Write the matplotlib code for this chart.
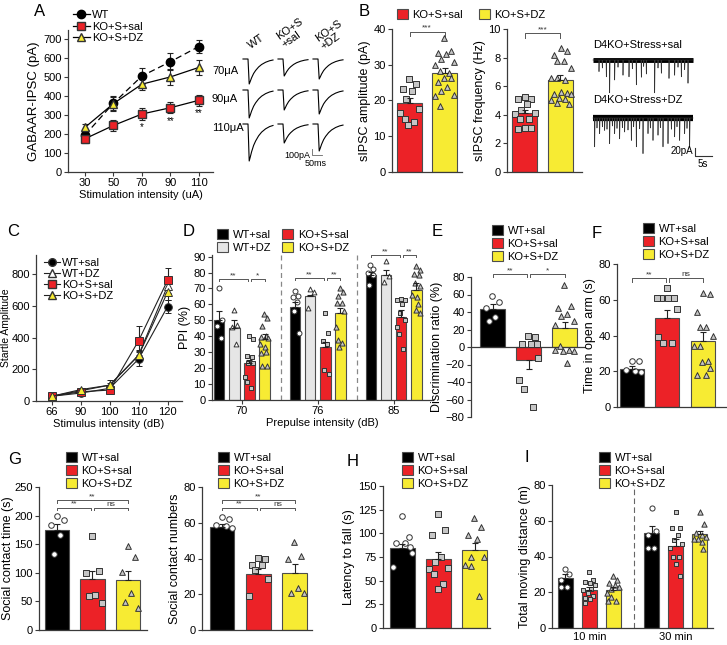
import numpy as np
import matplotlib
matplotlib.use("Agg")
import matplotlib.pyplot as plt
from matplotlib.lines import Line2D
from matplotlib.patches import Patch
from matplotlib.transforms import Affine2D

plt.rcParams['font.family'] = ['Liberation Sans', 'DejaVu Sans']
plt.rcParams['font.size'] = 8

# ---------------- data ----------------
# A: evoked GABAAR-IPSC vs stimulation
stim_ua = [30, 50, 70, 90, 110]
ipsc_wt = [195, 362, 505, 580, 660]
ipsc_wt_err = [20, 35, 40, 45, 35]
ipsc_ko_sal = [175, 245, 305, 338, 377]
ipsc_ko_sal_err = [20, 30, 30, 30, 30]
ipsc_ko_dz = [235, 360, 462, 500, 550]
ipsc_ko_dz_err = [20, 40, 30, 40, 40]
ipsc_stars = ['', '', '*', '**', '**']
trace_rows = ['70μA', '90μA', '110μA']
trace_cols = ['WT', 'KO+S\n+sal', 'KO+S\n+DZ']
trace_amp = [[500, 560, 740], [340, 400, 380], [400, 480, 540]]  # pA, column x row
trace_t = [0, 25, 28, 31, 36, 43, 53, 63, 78, 93, 113, 133, 150]  # ms
trace_shape = [0, 0, -0.5, -1.0, -0.9, -0.75, -0.58, -0.46, -0.32, -0.22, -0.13, -0.07, -0.04]

# B: sIPSC
amp_ko_sal = [26.0, 24.5, 23.1, 22.7, 20.3, 17.5, 16.6, 14.8, 13.9, 13.2]
amp_ko_dz = [37.6, 33.9, 33.2, 32.9, 31.5, 30.8, 29.9, 28.3, 27.8, 26.4, 26.2, 25.3,
             23.7, 22.7, 21.4, 21.3, 18.6]
amp_mean = [19.3, 27.6]
amp_err = [1.5, 1.5]
freq_ko_sal = [5.27, 5.08, 5.08, 4.76, 4.34, 4.15, 4.06, 3.73, 3.68, 3.05, 3.05, 3.03]
freq_ko_dz = [8.65, 8.45, 8.18, 7.79, 7.79, 7.25, 6.6, 6.6, 6.43, 5.6, 5.5, 5.45, 5.45,
              5.2, 5.1, 5.0, 4.8, 4.76]
freq_mean = [4.15, 6.4]
freq_err = [0.2, 0.35]
sal_spike_t = [1.8, 4.0, 5.0, 6.5, 9.0, 10.8, 13.0, 14.5, 16.0, 18.5, 20.5, 22.8, 24.5,
               26.5, 28.5, 2.8, 7.5, 11.8, 15.2, 19.5, 25.5, 27.5]
sal_spike_d = [29, 42, 82, 50, 38, 42, 62, 43, 35, 82, 33, 46, 38, 42, 58, 20, 18, 22,
               16, 20, 18, 24]
dz_spike_t = [0.5, 2.0, 3.5, 5.0, 6.5, 8.0, 9.5, 11.5, 13.0, 15.0, 16.5, 18.0, 19.5,
              21.0, 22.5, 24.5, 26.0, 27.5, 29.0, 1.2, 2.8, 4.2, 5.8, 7.2, 8.8, 10.5,
              12.2, 14.0, 17.2, 20.2, 23.5, 25.2, 28.2]
dz_spike_d = [72, 39, 31, 64, 39, 52, 35, 56, 72, 89, 39, 56, 43, 72, 64, 47, 56, 39,
              72, 25, 22, 28, 20, 26, 24, 30, 22, 27, 25, 24, 28, 22, 26]

# C: startle
startle_db = ['66', '90', '100', '110', '120']
startle_wt_sal = [30, 50, 80, 265, 595]
startle_wt_sal_err = [8, 10, 15, 45, 40]
startle_wt_dz = [30, 65, 100, 290, 725]
startle_wt_dz_err = [8, 10, 15, 30, 50]
startle_ko_sal = [30, 58, 69, 380, 760]
startle_ko_sal_err = [8, 10, 10, 90, 80]
startle_ko_dz = [30, 72, 100, 287, 686]
startle_ko_dz_err = [8, 10, 35, 25, 50]

# D: PPI
ppi_db = ['70', '76', '85']
ppi_mean = [[50.5, 45.5, 23.0, 38.2],
            [58.3, 65.0, 33.0, 54.5],
            [78.6, 78.6, 52.4, 69.2]]
ppi_err = [[5.5, 5.0, 2.0, 3.0],
           [3.0, 1.0, 3.5, 3.0],
           [1.5, 3.0, 4.0, 4.0]]
ppi_pts = [
    [[70.2, 50.3, 46.5, 38.8],
     [56.6, 47.0, 46.0, 35.0],
     [40.3, 38.2, 27.7, 27.3, 23.5, 23.0, 14.3, 11.5, 7.3],
     [53.9, 51.4, 46.5, 40.3, 39.8, 39.2, 35.0, 33.5, 30.4, 29.4, 21.4, 21.4]],
    [[68.1, 65.0, 64.4, 61.4, 55.6, 41.9],
     [69.6, 67.5, 57.6],
     [54.9, 41.9, 37.1, 35.2, 18.9, 16.1],
     [70.2, 67.5, 65.0, 60.8, 60.8, 55.6, 46.1, 37.7, 35.6, 33.1]],
    [[84.9, 82.2, 79.7, 78.2, 71.9],
     [87.0, 77.6, 74.0],
     [63.3, 62.9, 62.9, 60.2, 54.9, 50.3, 45.7, 41.5, 32.1],
     [83.9, 81.8, 79.2, 78.6, 73.4, 71.7, 66.0, 64.6, 60.4, 56.6, 54.5]],
]

# E: discrimination ratio
disc_mean = [44, -15, 22]
disc_err = [5, 10, 7]
disc_wt = [58, 51, 45, 34, 30]
disc_ko_sal = [13, 12, 4, 3, 3, -12, -38, -48, -68]
disc_ko_dz = [71, 47, 45, 38, 35, 30, 25, 1, -3, -3, -4, -5, -18]

# F: open arm
open_mean = [21, 50, 37]
open_err = [2, 4, 5]
open_wt = [25.8, 25.8, 20.6, 20.4, 19.7]
open_ko_sal = [66.5, 61.2, 61.2, 60.9, 60.9, 54.7, 39.3, 35.6, 35.6]
open_ko_dz = [64, 63, 53, 45, 45, 40, 34, 34, 26, 25, 22, 18, 18]

# G: social
ct_mean = [174, 89, 88]
ct_err = [12, 14, 15]
ct_wt = [199, 192, 183, 166, 132]
ct_ko_sal = [165, 103, 99, 62, 59, 48]
ct_ko_dz = [146, 128, 102, 64, 49, 38]
cn_mean = [57.5, 31.5, 32]
cn_err = [2, 2.5, 5]
cn_wt = [63, 62, 59, 58, 57]
cn_ko_sal = [40.5, 40, 36.6, 36.6, 33.5, 28.8, 19]
cn_ko_dz = [49, 41.5, 39.6, 23.6, 20.5, 20.5]

# H: rotarod
lat_mean = [84, 73, 82]
lat_err = [5, 7, 8]
lat_wt = [118, 96, 90, 90, 86, 79, 64]
lat_ko_sal = [120, 103, 98, 75, 70, 63, 62, 57, 47, 41]
lat_ko_dz = [116, 107, 98, 94, 75, 75, 67, 66, 34]

# I: open field
dist_labels = ['10 min', '30 min']
dist_mean = [[27.9, 21.4, 21.4], [53, 45.6, 52.5]]
dist_err = [[2.5, 1.5, 1.5], [4, 4, 2]]
dist_pts = [
    [[33, 30, 27, 23, 23],
     [31.6, 27, 26, 25, 24, 22, 21, 19.5, 18, 17, 16, 14],
     [29, 27, 25, 24, 23, 22, 19.5, 17.5, 15, 15]],
    [[67, 54, 52, 45, 45],
     [65, 56, 56, 52, 49, 47, 45, 40, 40, 36, 29],
     [65, 58, 53, 52, 51, 50, 50, 48, 44]],
]

grp3 = ['WT+sal', 'KO+S+sal', 'KO+S+DZ']

# ---------------- style ----------------
RED = '#EC2227'
YEL = '#F7EB33'
LGREY = '#E6E6E6'
MGREY = '#C6C6C6'
EDGE = '#4d4d4d'
AXC = '#3a3a3a'

W, H = 727, 645
fig = plt.figure(figsize=(W / 100, H / 100), dpi=100)
PX = Affine2D().scale(1 / W, -1 / H).translate(0, 1) + fig.transFigure


def px_ax(l, t, r, b):
    ax = fig.add_axes([l / W, 1 - b / H, (r - l) / W, (b - t) / H])
    for s in ('top', 'right'):
        ax.spines[s].set_visible(False)
    for s in ('left', 'bottom'):
        ax.spines[s].set_color(AXC)
        ax.spines[s].set_linewidth(0.9)
    ax.tick_params(length=3, width=0.8, color=AXC, labelsize=8, pad=1.5)
    ax.patch.set_alpha(0)
    return ax


def ftext(x, y, s, **kw):
    fig.text(x, y, s, transform=PX, **kw)


def letter(x, y, s):
    ftext(x, y, s, fontsize=12, ha='center', va='center')


SPREAD = [0.0, 0.65, -0.65, 0.3, -0.3, 0.95, -0.95, -0.45, 0.45]


def swarm(ax, xc, vals, half, d=6.0):
    # spread points across the bar, nudging to avoid overlaps
    tr = ax.transData
    pts = tr.transform(np.column_stack([np.full(len(vals), xc), np.asarray(vals, float)]))
    hp = abs(tr.transform((xc + half, 0))[0] - tr.transform((xc, 0))[0])
    grid = np.arange(-hp, hp + 0.01, 1.0)
    placed = []
    out = []
    for i, (px, py) in enumerate(pts):
        pref = SPREAD[i % len(SPREAD)] * hp
        cands = grid[np.argsort(np.abs(grid - pref))]
        best, bcand, bestd = None, pref, -1
        for c in cands:
            md = min([np.hypot(px + c - a, py - b) for a, b in placed], default=1e9)
            if md >= d:
                best = c
                break
            if md > bestd:
                bestd, bcand = md, c
        if best is None:
            best = bcand
        placed.append((px + best, py))
        out.append(tr.inverted().transform((px + best, py))[0])
    return out


ST_WT = ('o', 'white', 16)
ST_KO = ('s', MGREY, 15)
ST_DZ = ('^', MGREY, 17)
ST_WTDZ = ('^', 'white', 15)


def bar_panel(ax, xs, means, errs, colors, pts, styles, width, ps=1.0):
    for x, m, e, c in zip(xs, means, errs, colors):
        ax.bar(x, m, width, color=c, edgecolor=EDGE, linewidth=0.8, zorder=1)
    for x, v, (mk, fc, s) in zip(xs, pts, styles):
        xx = swarm(ax, x, v, width * 0.42, d=6.0 * ps)
        ax.scatter(xx, v, s=s * ps, marker=mk, facecolor=fc, edgecolor='#333',
                   linewidth=0.7, zorder=3, clip_on=False)
    for x, m, e in zip(xs, means, errs):
        ye = [[0], [e]] if m >= 0 else [[e], [0]]
        ax.errorbar([x], [m], yerr=ye, fmt='none', ecolor='#222', elinewidth=0.8,
                    capsize=2.5, capthick=0.8, zorder=4)


def bracket(ax, x1, x2, y, h, txt, fs=6):
    ax.plot([x1, x1, x2, x2], [y - h, y, y, y - h], color='#555', lw=0.7, clip_on=False)
    ax.text((x1 + x2) / 2, y, txt, ha='center', va='bottom', fontsize=fs,
            color='#333', clip_on=False)


def bar_legend(x, y, labels, colors, ncol=1):
    handles = [Patch(facecolor=c, edgecolor=EDGE, linewidth=0.8) for c in colors]
    fig.legend(handles, labels, loc='upper left', bbox_to_anchor=(x / W, 1 - y / H),
               ncol=ncol, frameon=False, fontsize=8, handlelength=1.0, handleheight=1.0,
               handletextpad=0.4, labelspacing=0.2, borderpad=0, borderaxespad=0,
               columnspacing=1.0)


# ---------------- A ----------------
axA = px_ax(68, 30, 213, 172)
axA.set_xlim(18, 120)
axA.set_ylim(0, 747)
axA.errorbar(stim_ua, ipsc_wt, yerr=ipsc_wt_err, color='k', ls=(0, (5, 3)), lw=0.9,
             marker='o', ms=6, mfc='k', mec='k', ecolor='#222', elinewidth=0.8,
             capsize=2.5, capthick=0.8, zorder=3)
axA.errorbar(stim_ua, ipsc_ko_sal, yerr=ipsc_ko_sal_err, color='k', lw=0.9,
             marker='s', ms=5.5, mfc=RED, mec='#333', ecolor='#222', elinewidth=0.8,
             capsize=2.5, capthick=0.8, zorder=3)
axA.errorbar(stim_ua, ipsc_ko_dz, yerr=ipsc_ko_dz_err, color='k', lw=0.9,
             marker='^', ms=6, mfc=YEL, mec='#333', ecolor='#222', elinewidth=0.8,
             capsize=2.5, capthick=0.8, zorder=3)
for x, m, e, s in zip(stim_ua, ipsc_ko_sal, ipsc_ko_sal_err, ipsc_stars):
    axA.text(x, m - e - 12, s, ha='center', va='top', fontsize=7)
axA.set_xticks(stim_ua)
axA.set_yticks(range(0, 701, 100))
axA.set_xlabel('Stimulation intensity (uA)', fontsize=8, labelpad=1)
axA.set_ylabel('GABAAR-IPSC (pA)', fontsize=9.5, labelpad=2)
hA = [Line2D([0], [0], color='k', lw=0.9, marker='o', ms=6, mfc='k', mec='k'),
      Line2D([0], [0], color='k', lw=0.9, marker='s', ms=5.5, mfc=RED, mec='#333'),
      Line2D([0], [0], color='k', lw=0.9, marker='^', ms=6, mfc=YEL, mec='#333')]
fig.legend(hA, ['WT', 'KO+S+sal', 'KO+S+DZ'], loc='upper left',
           bbox_to_anchor=(73 / W, 1 - 10 / H), frameon=False, fontsize=8,
           handlelength=1.5, handletextpad=0.2, labelspacing=0.15, borderpad=0,
           borderaxespad=0)
letter(40, 11, 'A')

# traces
axT = fig.add_axes([235 / W, 1 - 170 / H, 120 / W, 130 / H])
axT.axis('off')
axT.set_xlim(0, 600)
axT.set_ylim(-2600, 0)
row_base = [-380, -1000, -1680]
col_x0 = [40, 215, 390]
for ci in range(3):
    for ri in range(3):
        axT.plot(col_x0[ci] + np.array(trace_t),
                 row_base[ri] + np.array(trace_shape) * trace_amp[ci][ri],
                 color='k', lw=0.8)
for lab, y in zip(trace_rows, [71, 99, 128]):
    ftext(212, y, lab, ha='left', va='center', fontsize=8)
for lab, (x, y) in zip(trace_cols, [(256, 42), (292, 33), (331, 35)]):
    ftext(x, y, lab, ha='center', va='center', rotation=35, fontsize=8,
          multialignment='left', linespacing=0.95)
fig.add_artist(Line2D([312, 312, 322], [149, 155, 155], transform=PX, color='#666', lw=0.6))
ftext(310, 155, '100pA', ha='right', va='center', fontsize=6.5)
ftext(316, 163, '50ms', ha='center', va='center', fontsize=6.5)

# ---------------- B ----------------
axB1 = px_ax(392, 29, 462, 172)
axB1.set_xlim(-0.5, 1.5)
axB1.set_ylim(0, 40)
bar_panel(axB1, [0, 1], amp_mean, amp_err, [RED, YEL], [amp_ko_sal, amp_ko_dz],
          [ST_KO, ST_DZ], 0.7)
bracket(axB1, 0, 1, 39.3, 1.2, '***')
axB1.set_xticks([])
axB1.set_yticks(range(0, 41, 10))
axB1.set_ylabel('sIPSC amplitude (pA)', fontsize=9, labelpad=2)

axB2 = px_ax(507, 29, 582, 172)
axB2.set_xlim(-0.49, 1.6)
axB2.set_ylim(0, 10)
bar_panel(axB2, [0, 1], freq_mean, freq_err, [RED, YEL], [freq_ko_sal, freq_ko_dz],
          [ST_KO, ST_DZ], 0.7)
bracket(axB2, 0, 1, 9.7, 0.3, '***')
axB2.set_xticks([])
axB2.set_yticks(range(0, 11, 2))
axB2.set_ylabel('sIPSC frequency (Hz)', fontsize=9, labelpad=2)
bar_legend(397, 9, ['KO+S+sal'], [RED])
bar_legend(479, 9, ['KO+S+DZ'], [YEL])
letter(364, 12, 'B')

axS = fig.add_axes([590 / W, 1 - 165 / H, 130 / W, 125 / H])
axS.axis('off')
axS.set_xlim(-0.9, 38.1)
axS.set_ylim(-312.5, 0)
for base, ts, ds, lw in [(-50, sal_spike_t, sal_spike_d, 3.5),
                         (-195, dz_spike_t, dz_spike_d, 4.5)]:
    axS.plot([0, 30], [base, base], color='k', lw=lw, solid_capstyle='butt')
    xs, ys = [0], [base]
    for i in np.argsort(ts):
        xs += [ts[i] - 0.08, ts[i], ts[i] + 0.12]
        ys += [base, base - ds[i], base]
    xs.append(30)
    ys.append(base)
    axS.plot(xs, ys, color='#333', lw=0.5)
ftext(593, 45, 'D4KO+Stress+sal', ha='left', va='center', fontsize=8)
ftext(593, 100, 'D4KO+Stress+DZ', ha='left', va='center', fontsize=8)
fig.add_artist(Line2D([695, 695, 712], [148, 156, 156], transform=PX, color='#333', lw=0.8))
ftext(693, 151, '20pA', ha='right', va='center', fontsize=7)
ftext(703, 164, '5s', ha='center', va='center', fontsize=7)

# ---------------- C ----------------
axC = px_ax(36, 255, 182, 401)
axC.set_xlim(-0.55, 4.5)
axC.set_ylim(0, 920)
xc = np.arange(len(startle_db))
for vals, err, mk, fc, ms in [(startle_wt_sal, startle_wt_sal_err, 'o', 'k', 5.5),
                              (startle_wt_dz, startle_wt_dz_err, '^', 'white', 5.5),
                              (startle_ko_sal, startle_ko_sal_err, 's', RED, 5.5),
                              (startle_ko_dz, startle_ko_dz_err, '^', YEL, 5.5)]:
    axC.errorbar(xc, vals, yerr=err, color='#222', lw=0.8, marker=mk, ms=ms, mfc=fc,
                 mec='#333', mew=0.7, ecolor='#222', elinewidth=0.8, capsize=2.5,
                 capthick=0.8)
axC.set_xticks(xc)
axC.set_xticklabels(startle_db)
axC.set_yticks(range(0, 801, 200))
axC.set_xlabel('Stimulus intensity (dB)', fontsize=8, labelpad=1)
axC.set_ylabel('Startle Amplitude', fontsize=7.5, labelpad=0)
hC = [Line2D([0], [0], color='#222', lw=0.8, marker=m, ms=5.5, mfc=f, mec='#333')
      for m, f in [('o', 'k'), ('^', 'white'), ('s', RED), ('^', YEL)]]
axC.legend(hC, ['WT+sal', 'WT+DZ', 'KO+S+sal', 'KO+S+DZ'], loc='upper left',
           bbox_to_anchor=(44 / W, 1 - 258 / H), bbox_transform=fig.transFigure,
           frameon=False, fontsize=8, handlelength=1.4, handletextpad=0.2,
           labelspacing=0.1, borderpad=0, borderaxespad=0)
letter(13, 232, 'C')

# ---------------- D ----------------
axD = px_ax(212, 255, 433, 400)
axD.set_xlim(-1.97, 12.6)
axD.set_ylim(0, 91)
offs = [-1.5, -0.5, 0.5, 1.5]
for gi in range(3):
    xs = [gi * 5 + o for o in offs]
    bar_panel(axD, xs, ppi_mean[gi], ppi_err[gi], ['k', LGREY, RED, YEL], ppi_pts[gi],
              [ST_WT, ST_WTDZ, ST_KO, ST_DZ], 0.7, ps=0.8)
for sx in [2.6, 7.6]:
    axD.axvline(sx, color='#888', lw=0.9, ls=(0, (4, 3)), zorder=0)
for gi, (y, s2) in enumerate([(76, '*'), (76.5, '**'), (91, '**')]):
    bracket(axD, gi * 5 - 1.5, gi * 5 + 0.4, y, 1.5, '**')
    bracket(axD, gi * 5 + 0.6, gi * 5 + 1.5, y, 1.5, s2)
axD.set_xticks([0, 5, 10])
axD.set_xticklabels(ppi_db)
axD.set_yticks(range(0, 91, 10))
axD.set_xlabel('Prepulse intensity (dB)', fontsize=8, labelpad=1)
axD.set_ylabel('PPI (%)', fontsize=9, labelpad=2)
bar_legend(217, 229, ['WT+sal', 'WT+DZ', 'KO+S+sal', 'KO+S+DZ'], ['k', LGREY, RED, YEL], ncol=2)
letter(189, 232, 'D')

# ---------------- E ----------------
axE = px_ax(471, 277, 585, 417)
axE.set_xlim(-0.6, 2.57)
axE.set_ylim(-80, 80)
bar_panel(axE, [0, 1, 2], disc_mean, disc_err, ['k', RED, YEL],
          [disc_wt, disc_ko_sal, disc_ko_dz], [ST_WT, ST_KO, ST_DZ], 0.68)
axE.spines['bottom'].set_position(('data', 0))
axE.set_xticks([])
axE.set_yticks(range(-80, 81, 20))
bracket(axE, 0, 0.95, 83, 3, '**')
bracket(axE, 1.05, 2, 83, 3, '*')
axE.set_ylabel('Discrimination ratio (%)', fontsize=9, labelpad=2)
bar_legend(492, 225, grp3, ['k', RED, YEL])
letter(437, 232, 'E')

# ---------------- F ----------------
axF = px_ax(617, 264, 727, 407)
axF.set_xlim(-0.42, 2.68)
axF.set_ylim(0, 80)
bar_panel(axF, [0, 1, 2], open_mean, open_err, ['k', RED, YEL],
          [open_wt, open_ko_sal, open_ko_dz], [ST_WT, ST_KO, ST_DZ], 0.68)
axF.set_xticks([])
axF.set_yticks(range(0, 81, 20))
bracket(axF, 0, 0.95, 72, 2, '**')
bracket(axF, 1.05, 2, 72, 2, 'ns')
axF.set_ylabel('Time in open arm (s)', fontsize=9, labelpad=2)
bar_legend(643, 223, grp3, ['k', RED, YEL])
letter(597, 234, 'F')

# ---------------- G ----------------
axG1 = px_ax(39, 487, 147, 630)
axG1.set_xlim(-0.51, 2.54)
axG1.set_ylim(0, 250)
bar_panel(axG1, [0, 1, 2], ct_mean, ct_err, ['k', RED, YEL],
          [ct_wt, ct_ko_sal, ct_ko_dz], [ST_WT, ST_KO, ST_DZ], 0.68)
axG1.set_xticks([])
axG1.set_yticks(range(0, 251, 50))
bracket(axG1, 0, 0.95, 214, 5, '**')
bracket(axG1, 1.05, 2, 214, 5, 'ns')
bracket(axG1, 0, 2, 227, 5, '**')
axG1.set_ylabel('Social contact time (s)', fontsize=9, labelpad=0.5)
bar_legend(66, 452, grp3, ['k', RED, YEL])
letter(15, 460, 'G')

axG2 = px_ax(202, 487, 312, 630)
axG2.set_xlim(-0.55, 2.47)
axG2.set_ylim(0, 80)
bar_panel(axG2, [0, 1, 2], cn_mean, cn_err, ['k', RED, YEL],
          [cn_wt, cn_ko_sal, cn_ko_dz], [ST_WT, ST_KO, ST_DZ], 0.68)
axG2.set_xticks([])
axG2.set_yticks(range(0, 81, 20))
bracket(axG2, 0, 0.95, 68.5, 1.6, '**')
bracket(axG2, 1.05, 2, 68.5, 1.6, 'ns')
bracket(axG2, 0, 2, 72.6, 1.6, '**')
axG2.set_ylabel('Social contact numbers', fontsize=9, labelpad=2)
bar_legend(218, 452, grp3, ['k', RED, YEL])

# ---------------- H ----------------
axH = px_ax(383, 486, 490, 628)
axH.set_xlim(-0.54, 2.43)
axH.set_ylim(0, 150)
bar_panel(axH, [0, 1, 2], lat_mean, lat_err, ['k', RED, YEL],
          [lat_wt, lat_ko_sal, lat_ko_dz], [ST_WT, ST_KO, ST_DZ], 0.68)
axH.set_xticks([])
axH.set_yticks(range(0, 151, 25))
axH.set_ylabel('Latency to fall (s)', fontsize=9, labelpad=2)
bar_legend(402, 452, grp3, ['k', RED, YEL])
letter(353, 461, 'H')

# ---------------- I ----------------
axI = px_ax(552, 485, 713, 628)
axI.set_xlim(-0.56, 6.15)
axI.set_ylim(0, 80)
for gi in range(2):
    xs = [gi * 3.6 + k for k in range(3)]
    bar_panel(axI, xs, dist_mean[gi], dist_err[gi], ['k', RED, YEL], dist_pts[gi],
              [ST_WT, ST_KO, ST_DZ], 0.62, ps=0.85)
axI.axvline(2.85, color='#666', lw=0.8, ls=(0, (5, 3)), zorder=0)
axI.set_xticks([1, 4.6])
axI.set_xticklabels(dist_labels)
axI.tick_params(axis='x', length=0, pad=3)
axI.set_yticks(range(0, 81, 20))
axI.set_ylabel('Total moving distance (m)', fontsize=9, labelpad=2)
bar_legend(599, 452, grp3, ['k', RED, YEL])
letter(527, 458, 'I')

fig.savefig('out.png', dpi=100)
